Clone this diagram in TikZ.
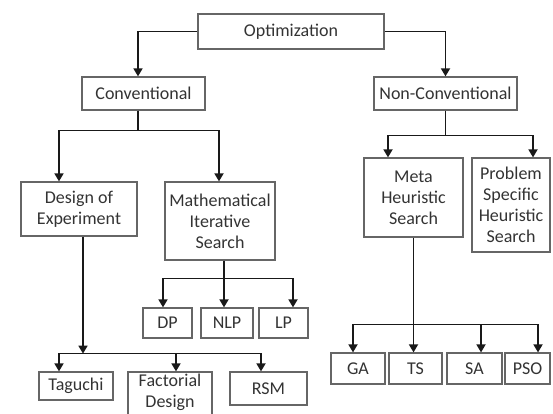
\documentclass[tikz,border=0pt]{standalone}
\usepackage{fontspec}
\setmainfont{Carlito}
\usetikzlibrary{arrows.meta}
\definecolor{boxline}{gray}{0.40}
\definecolor{linkline}{gray}{0.10}
\definecolor{boxtext}{gray}{0.20}
\begin{document}
\begin{tikzpicture}[x=1pt,y=-1pt,
    box/.style={draw=boxline, line width=1.2pt, inner sep=0pt, align=center,
        text=boxtext, font=\fontsize{18}{21}\selectfont},
    link/.style={draw=linkline, line width=1.7pt},
    arr/.style={link, -{Triangle[width=9pt,length=8pt]}}]
                \clip (0,0) rectangle (553,414);
                \node [box, minimum width=186pt, minimum height=35pt] (opt) at (291,31.5) {Optimization};
                \node [box, minimum width=123pt, minimum height=33pt] (conv) at (143.5,93.5) {Conventional};
                \node [box, minimum width=143pt, minimum height=33pt] (nonconv) at (445.5,93.5) {Non-Conventional};
                \node [box, minimum width=116pt, minimum height=54pt] (doe) at (79,209) {Design of\\Experiment};
                \node [box, minimum width=110pt, minimum height=78pt] (mis) at (220,221) {Mathematical\\Iterative\\Search};
                \node [box, minimum width=99pt, minimum height=79pt] (meta) at (413.5,197.5) {Meta\\Heuristic\\Search};
                \node [box, minimum width=78pt, minimum height=94pt] (pshs) at (511,205) {Problem\\Specific\\Heuristic\\Search};
                \node [box, minimum width=49pt, minimum height=30pt] (dp) at (167.5,323) {DP};
                \node [box, minimum width=52pt, minimum height=30pt] (nlp) at (227,323) {NLP};
                \node [box, minimum width=49pt, minimum height=30pt] (lp) at (283.5,323) {LP};
                \node [box, minimum width=74pt, minimum height=28pt] (taguchi) at (76,386) {Taguchi};
                \node [box, minimum width=84pt, minimum height=48pt, text depth=10pt] (fact) at (170,396) {Factorial\\Design};
                \node [box, minimum width=77pt, minimum height=33pt] (rsm) at (268.5,388.5) {RSM};
                \node [box, minimum width=54pt, minimum height=31pt] (ga) at (358,368.5) {GA};
                \node [box, minimum width=53pt, minimum height=31pt] (ts) at (415.5,368.5) {TS};
                \node [box, minimum width=55pt, minimum height=31pt] (sa) at (474.5,368.5) {SA};
                \node [box, minimum width=45pt, minimum height=31pt] (pso) at (527.5,368.5) {PSO};
                \draw [arr] (opt.west) -| ([xshift=-5.5pt]conv.north);
                \draw [arr] (opt.east) -| (nonconv.north);
                \draw [arr] ([xshift=-5.5pt]conv.south) -- ++(0,20) -| ([xshift=-20pt]doe.north);
                \draw [arr] ([xshift=-5.5pt]conv.south) -- ++(0,20) -| ([xshift=-1pt]mis.north);
                \draw [arr] (nonconv.south) -- ++(0,25) -| ([xshift=-25.5pt]meta.north);
                \draw [arr] (nonconv.south) -- ++(0,25) -| ([xshift=22pt]pshs.north);
                \draw [arr] ([xshift=4pt]doe.south) -- ++(0,117) coordinate (doebar);
                \draw [arr] (doebar) -| ([xshift=-17pt]taguchi.north);
                \draw [arr] (doebar) -| ([xshift=6pt]fact.north);
                \draw [arr] (doebar) -| ([xshift=-7.5pt]rsm.north);
                \draw [link] ([xshift=4pt]mis.south) -- ++(0,18) coordinate (misbar);
                \draw [arr] (misbar) -| ([xshift=-4.5pt]dp.north);
                \draw [arr] (misbar) -| ([xshift=-3pt]nlp.north);
                \draw [arr] (misbar) -| ([xshift=9.5pt]lp.north);
                \draw [arr] (meta.south) -- (meta.south |- ts.north);
                \path (meta.south) ++(0,87) coordinate (metabar);
                \draw [arr] (metabar) -| ([xshift=-5pt]ga.north);
                \draw [arr] (metabar) -| ([xshift=6.5pt]sa.north);
                \draw [arr] (metabar) -| ([xshift=10.5pt]pso.north);
            \end{tikzpicture}
\end{document}
